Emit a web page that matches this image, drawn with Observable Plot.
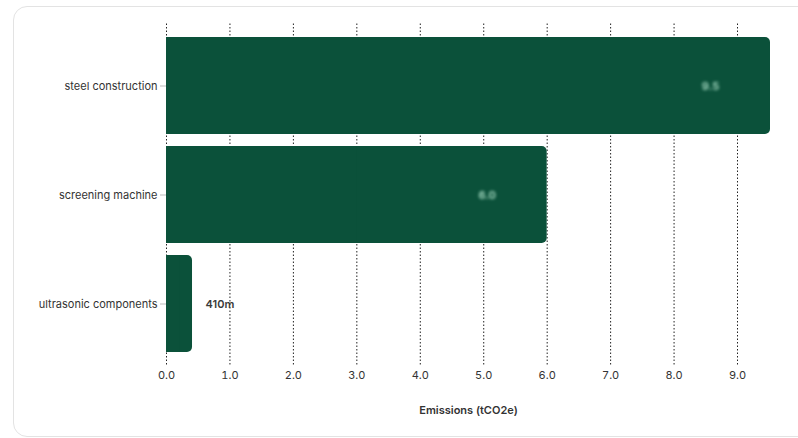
<!DOCTYPE html>
<html>
<head>
<meta charset="utf-8">
<script src="https://cdn.jsdelivr.net/npm/d3@7"></script>
<script src="https://cdn.jsdelivr.net/npm/@observablehq/plot@0.6"></script>
<style>
  html, body { margin: 0; padding: 0; background: #fff; }
  body { width: 798px; height: 438px; position: relative; overflow: hidden; font-family: Inter, "Noto Sans", sans-serif; }
  #card { position: absolute; left: 13px; top: 6px; width: 820px; height: 431px; border: 1px solid #e3e3e3; border-radius: 14px; box-sizing: border-box; }
  #chart { position: absolute; left: 0; top: 0; }
</style>
</head>
<body>
<div id="card"></div>
<div id="chart"></div>
<script>
const categories = ["steel construction", "screening machine", "ultrasonic components"];
const values = [9.52, 6.0, 0.41];
const xTicks = [0, 1, 2, 3, 4, 5, 6, 7, 8, 9];

const data = categories.map((c, i) => ({category: c, value: values[i]}));
const fmt = v => v < 1 ? d3.format("~s")(v) : v.toFixed(1);
const barColor = "#0b513a";

const plot = Plot.plot({
  width: 798,
  height: 438,
  marginLeft: 166,
  marginRight: 28,
  marginTop: 23.5,
  marginBottom: 73.5,
  style: {fontFamily: "Inter, 'Noto Sans', sans-serif", fontSize: "11px", color: "#333", background: "transparent"},
  x: {domain: [0, d3.max(values)], ticks: xTicks, tickFormat: d => d.toFixed(1)},
  y: {domain: categories, padding: 0.114},
  marks: [
    Plot.ruleX(xTicks, {stroke: "#222", strokeWidth: 1, strokeDasharray: "1.5,2"}),
    Plot.barX(data, {y: "category", x: "value", fill: barColor, rx: 5}),
    Plot.barX(data, {y: "category", x1: 0, x2: d => d.value / 2, fill: barColor}),
    Plot.text(data.filter(d => d.value >= 1), {y: "category", x: "value", text: d => fmt(d.value), dx: -60, fill: "#9fd4bc", fontSize: 11, fontWeight: 700, textAnchor: "middle"}),
    Plot.text(data.filter(d => d.value < 1), {y: "category", x: "value", text: d => fmt(d.value), dx: 13, fill: "#3a3a3a", fontSize: 11, fontWeight: 600, textAnchor: "start"}),
    Plot.axisX({ticks: xTicks, tickFormat: d => d.toFixed(1), tickSize: 0, tickPadding: 6, label: "Emissions (tCO2e)", labelAnchor: "center", labelOffset: 49, labelArrow: "none", fill: "#333"}),
    Plot.axisY({tickSize: 6, tickPadding: 3, stroke: "#bbb", fill: "#333", label: null})
  ]
});
document.getElementById("chart").appendChild(plot);

// blur the in-bar labels, as in the reference
plot.querySelectorAll("text").forEach(t => {
  if (t.getAttribute("fill") === "#9fd4bc" || (t.parentNode && t.parentNode.getAttribute("fill") === "#9fd4bc")) {
    t.style.filter = "blur(1.8px)";
  }
});
// axis label weight
plot.querySelectorAll("g[aria-label='x-axis label'] text").forEach(t => { t.style.fontWeight = "600"; });
</script>
</body>
</html>
